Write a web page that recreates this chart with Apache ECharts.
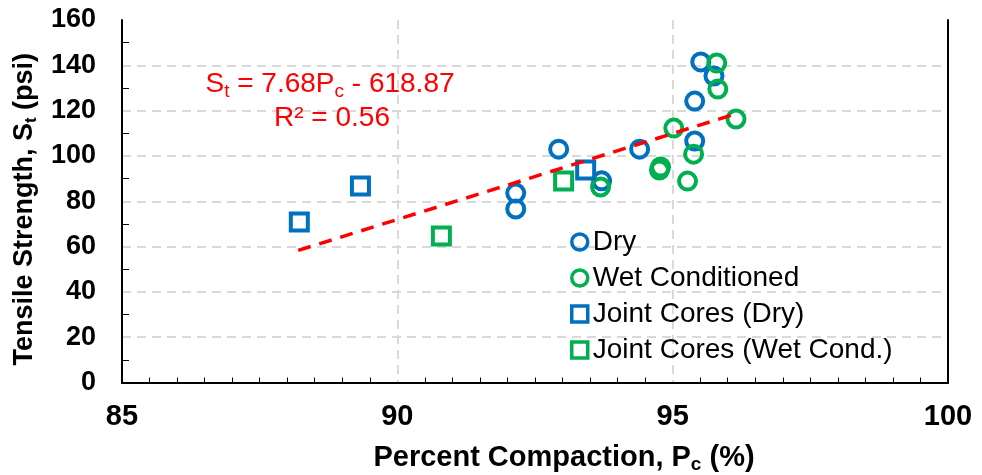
<!DOCTYPE html>
<html>
<head>
<meta charset="utf-8">
<script src="https://cdn.jsdelivr.net/npm/echarts@6/dist/echarts.min.js"></script>
<style>html,body{margin:0;padding:0;background:#fff;}#c{width:982px;height:475px;}</style>
</head>
<body>
<div id="c"></div>
<script>
// Data
var dryX = [95.51, 95.75, 95.40, 95.40, 94.40, 92.93, 93.71, 92.15, 92.15];
var dryY = [141.5, 135.3, 124.2, 106.6, 103.0, 103.0, 89.0, 83.6, 76.6];
var wetX = [95.80, 95.82, 96.15, 95.02, 95.38, 94.78, 94.76, 95.27, 93.69];
var wetY = [141.0, 129.5, 116.3, 112.3, 100.8, 95.1, 93.8, 88.9, 86.3];
var jointDryX = [88.22, 89.33, 93.42];
var jointDryY = [70.8, 86.7, 93.8];
var jointWetX = [90.80, 93.02];
var jointWetY = [64.7, 88.9];
var trendX = [88.2, 96.2];
var trendY = [58.3, 119.0];
var xTicks = [85, 90, 95, 100];
var yTicks = [0, 20, 40, 60, 80, 100, 120, 140, 160];
var seriesNames = ['Dry', 'Wet Conditioned', 'Joint Cores (Dry)', 'Joint Cores (Wet Cond.)'];

function pairs(xs, ys) { return xs.map(function (x, i) { return [x, ys[i]]; }); }

var BLUE = '#0070C0', GREEN = '#00B050';
var FONT = 'Liberation Sans, Arial, sans-serif';

function markerSeries(name, xs, ys, sym, color) {
  return {
    type: 'scatter', name: name, data: pairs(xs, ys),
    symbol: sym, symbolSize: 17,
    itemStyle: { color: 'rgba(255,255,255,0)', borderColor: color, borderWidth: 4, opacity: 1 },
    emphasis: { disabled: true }, z: 3
  };
}

var chart = echarts.init(document.getElementById('c'), null, { renderer: 'canvas' });
var gridLine = { show: true, lineStyle: { color: '#d9d9d9', width: 2, type: [9, 6] }, showMinLine: false, showMaxLine: false };

chart.setOption({
  animation: false,
  backgroundColor: '#fff',
  grid: { left: 122, right: 34, top: 20, bottom: 92.5, containLabel: false, outerBoundsMode: 'none' },
  xAxis: [{
    type: 'value', min: xTicks[0], max: xTicks[xTicks.length - 1], interval: 5,
    axisLine: { show: true, onZero: false, lineStyle: { color: '#000', width: 2 } },
    axisTick: { show: false },
    minorTick: { show: true, splitNumber: 10, length: -5, lineStyle: { color: '#000', width: 1 } },
    axisLabel: { margin: 20, color: '#000', fontFamily: FONT, fontWeight: 'bold', fontSize: 29 },
    splitLine: gridLine,
    name: 'Percent Compaction, P{sub|c} (%)', nameLocation: 'middle', nameGap: 58,
    nameTextStyle: { color: '#000', fontFamily: FONT, fontWeight: 'bold', fontSize: 29, padding: [0, 0, 0, 58],
      rich: { sub: { fontFamily: FONT, fontWeight: 'bold', fontSize: 19, color: '#000', padding: [15, 0, 0, 0] } } }
  }, {
    type: 'value', position: 'top', min: xTicks[0], max: xTicks[xTicks.length - 1],
    axisLine: { show: true, lineStyle: { color: '#000', width: 2 } },
    axisTick: { show: false }, axisLabel: { show: false }, splitLine: { show: false }
  }],
  yAxis: [{
    type: 'value', min: yTicks[0], max: yTicks[yTicks.length - 1], interval: 20,
    axisLine: { show: true, onZero: false, lineStyle: { color: '#000', width: 2 } },
    axisTick: { show: false },
    minorTick: { show: true, splitNumber: 2, length: -7, lineStyle: { color: '#000', width: 1 } },
    axisLabel: { margin: 26, color: '#000', fontFamily: FONT, fontWeight: 'bold', fontSize: 27 },
    splitLine: gridLine,
    name: 'Tensile Strength, S{sub|t} (psi)', nameLocation: 'middle', nameGap: 82,
    nameTextStyle: { color: '#000', fontFamily: FONT, fontWeight: 'bold', fontSize: 27, padding: [0, 16, 0, 0],
      rich: { sub: { fontFamily: FONT, fontWeight: 'bold', fontSize: 17, color: '#000', padding: [14, 0, 0, 0] } } }
  }, {
    type: 'value', position: 'right', min: yTicks[0], max: yTicks[yTicks.length - 1],
    axisLine: { show: true, lineStyle: { color: '#000', width: 2 } },
    axisTick: { show: false }, axisLabel: { show: false }, splitLine: { show: false }
  }],
  legend: {
    data: seriesNames, orient: 'vertical', left: 565, top: 222,
    itemWidth: 16, itemHeight: 16, itemGap: 6,
    textStyle: { color: '#000', fontFamily: FONT, fontSize: 28, lineHeight: 30 },
    itemStyle: { borderWidth: 3.5 }
  },
  graphic: [{
    type: 'text', x: 330, y: 84, z: 10,
    style: {
      text: 'S{sub|t} = 7.68P{sub|c} - 618.87', align: 'center', verticalAlign: 'middle',
      fill: '#FF0000', font: '28px ' + FONT,
      rich: { sub: { fill: '#FF0000', fontSize: 19, fontFamily: FONT, padding: [15, 0, 0, 0] } }
    }
  }, {
    type: 'text', x: 332, y: 118, z: 10,
    style: { text: 'R² = 0.56', align: 'center', verticalAlign: 'middle', fill: '#FF0000', font: '28px ' + FONT }
  }],
  series: [
    markerSeries(seriesNames[0], dryX, dryY, 'circle', BLUE),
    markerSeries(seriesNames[1], wetX, wetY, 'circle', GREEN),
    markerSeries(seriesNames[2], jointDryX, jointDryY, 'rect', BLUE),
    markerSeries(seriesNames[3], jointWetX, jointWetY, 'rect', GREEN),
    {
      type: 'line', name: 'trend', data: pairs(trendX, trendY), showSymbol: false, symbol: 'none',
      lineStyle: { color: '#FF0000', width: 3.5, type: [13, 9] }, z: 4, emphasis: { disabled: true }
    }
  ]
});
</script>
</body>
</html>
